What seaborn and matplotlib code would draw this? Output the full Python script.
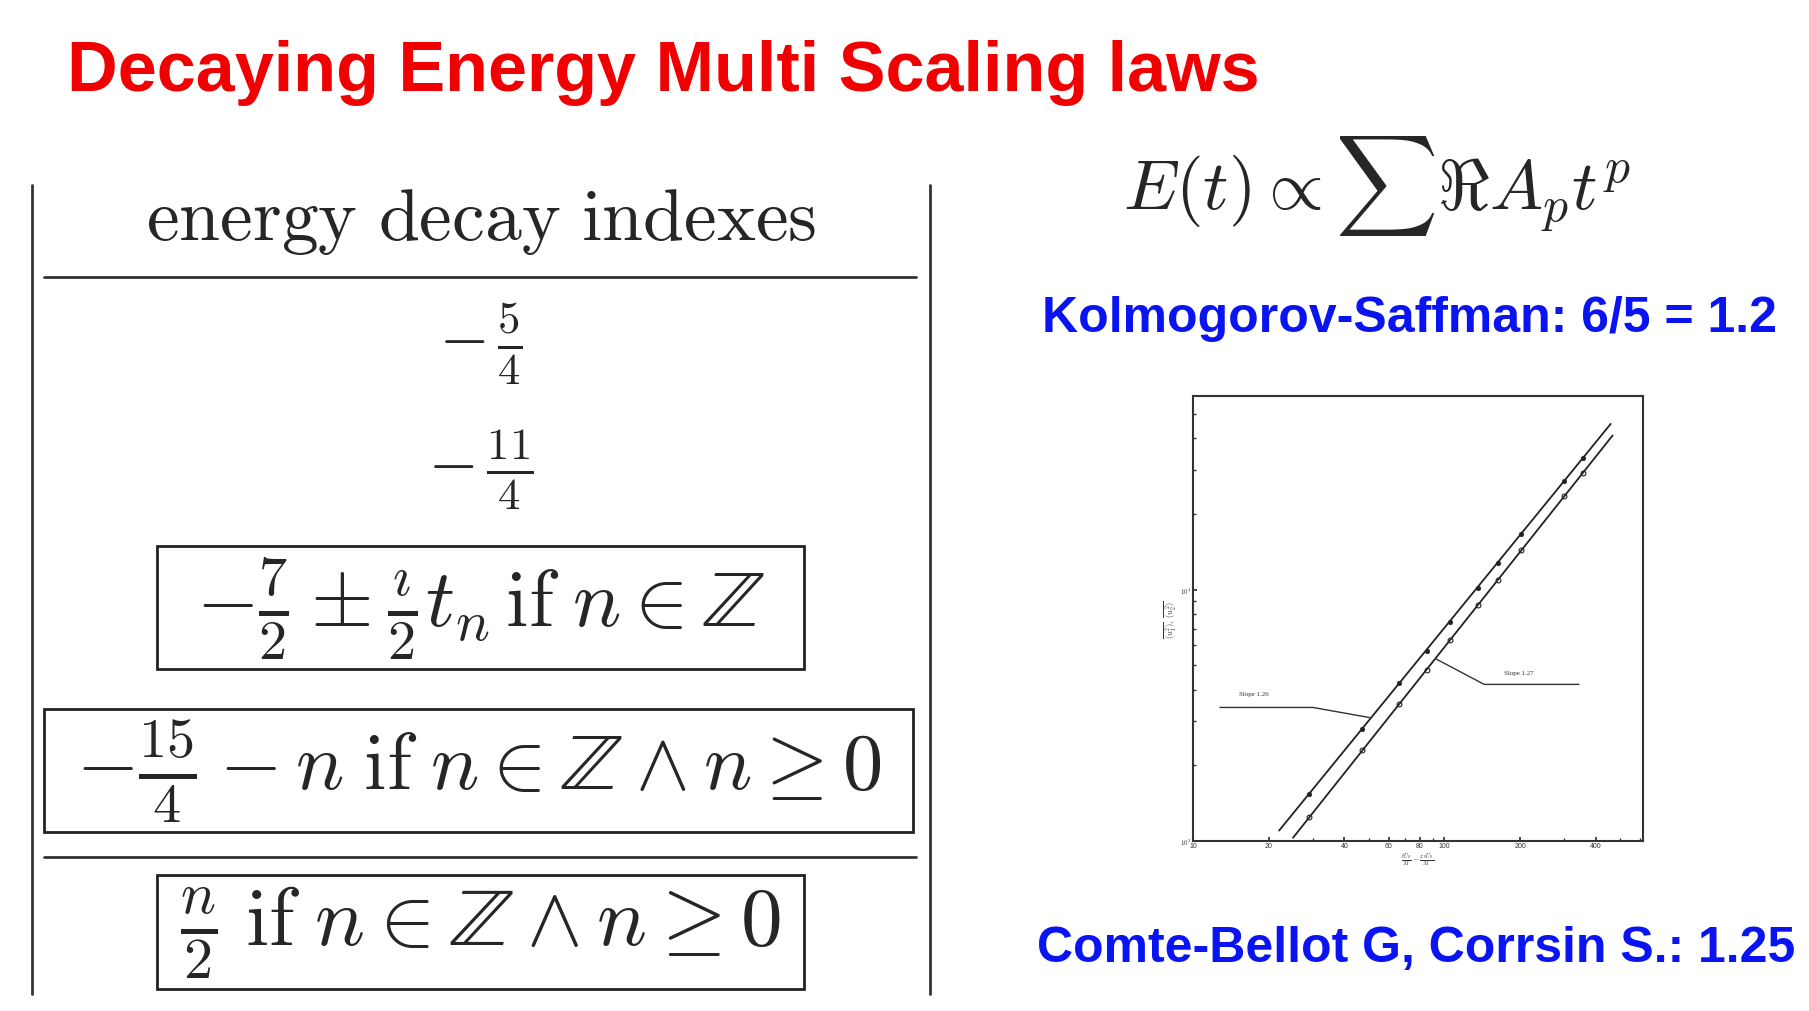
import matplotlib
matplotlib.use("Agg")
import matplotlib.pyplot as plt
import seaborn as sns
import numpy as np
from matplotlib.patches import Rectangle
from matplotlib.lines import Line2D

sns.set_theme(style="white")
plt.rcParams['font.family'] = ['Liberation Sans', 'DejaVu Sans']
plt.rcParams['mathtext.fontset'] = 'cm'

title = "Decaying Energy Multi Scaling laws"
header = r"$\mathrm{energy\ decay\ indexes}$"
rows = [r"$-\,\frac{5}{4}$", r"$-\,\frac{11}{4}$",
        r"$-\frac{7}{2}\pm\frac{\imath}{2}t_n\,\mathrm{if}\;n\in\mathbb{Z}$",
        r"$-\frac{15}{4}-n\;\mathrm{if}\;n\in\mathbb{Z}\wedge n\geq 0$",
        r"$\frac{n}{2}\;\mathrm{if}\;n\in\mathbb{Z}\wedge n\geq 0$"]
formula = r"$E(t)\propto\sum\Re A_p t^p$"
ks_text = "Kolmogorov-Saffman: 6/5 = 1.2"
cbc_text = "Comte-Bellot G, Corrsin S.: 1.25"

x_pts = [29, 47, 66, 85, 105, 136, 163, 202, 300, 355]
y_filled = [1540, 2800, 4240, 5710, 7430, 10200, 12800, 16700, 27200, 33300]
y_open = [1250, 2310, 3520, 4800, 6280, 8690, 10960, 14350, 23650, 29200]
fit1_x, fit1_y = [22, 459], [1100, 45700]
fit2_x, fit2_y = [25, 467], [1030, 41100]

W, H = 1809, 1012
fig = plt.figure(figsize=(W/100, H/100), dpi=100)
fig.patch.set_facecolor('white')

def fx(px): return px / W
def fy(py): return 1 - py / H

fig.text(fx(67), fy(73), title, color='#f00000', fontsize=50.5, fontweight='bold', va='center', ha='left')

# table
for x in (32, 930):
    fig.add_artist(Line2D([fx(x), fx(x)], [fy(186), fy(995)], color='#333', lw=2))
for y in (278, 858):
    fig.add_artist(Line2D([fx(44), fx(916)], [fy(y), fy(y)], color='#333', lw=2))
fig.text(fx(481), fy(222), header, fontsize=53, ha='center', va='center')
fig.text(fx(481), fy(344), rows[0], fontsize=46, ha='center', va='center')
fig.text(fx(481), fy(470), rows[1], fontsize=46, ha='center', va='center')
for (x0, y0, x1, y1), r, fs in zip([(157, 547, 804, 670), (44, 710, 913, 833), (157, 876, 804, 990)], rows[2:], [58, 58, 60]):
    fig.add_artist(Rectangle((fx(x0), fy(y1)), fx(x1-x0), (y1-y0)/H, fill=False, ec='#222', lw=2))
    fig.text(fx((x0+x1)/2), fy((y0+y1)/2), r, fontsize=fs, ha='center', va='center')

fig.text(fx(1377), fy(186), formula, fontsize=51, ha='center', va='center')
fig.text(fx(1410), fy(319), ks_text, color='#0a14f0', fontsize=36, fontweight='bold', ha='center', va='center')
fig.text(fx(1416), fy(949), cbc_text, color='#0a14f0', fontsize=36, fontweight='bold', ha='center', va='center')

# inset plot
ax = fig.add_axes([1193/W, 1-842/H, 450/W, 445/H])
ax.set_xscale('log'); ax.set_yscale('log')
ax.set_xlim(10, 617); ax.set_ylim(1000, 59000)
sns.lineplot(x=fit1_x, y=fit1_y, ax=ax, color='#222', lw=1.3)
sns.lineplot(x=fit2_x, y=fit2_y, ax=ax, color='#222', lw=1.3)
sns.scatterplot(x=x_pts, y=y_filled, ax=ax, color='#222', s=12, edgecolor='#222')
sns.scatterplot(x=x_pts, y=y_open, ax=ax, facecolor='white', s=12, edgecolor='#222', linewidth=0.8)
ax.plot([12.8, 30, 50.3], [3400, 3400, 3100], color='#333', lw=1)
ax.text(15.3, 3800, "Slope 1.26", fontsize=5, family='Liberation Serif', color='#333')
ax.plot([92.7, 144, 343], [5300, 4200, 4200], color='#333', lw=1)
ax.text(173, 4610, "Slope 1.27", fontsize=5, family='Liberation Serif', color='#333')
for s in ax.spines.values():
    s.set_color('#333'); s.set_linewidth(1.5)
ax.set_xticks([10, 20, 40, 60, 80, 100, 200, 400])
ax.set_xticklabels(['10', '20', '40', '60', '80', '100', '200', '400'])
ax.set_yticks([1000, 10000])
ax.set_yticklabels([r'$10^3$', r'$10^4$'])
ax.tick_params(axis='both', which='both', direction='in', labelsize=5, length=3, left=True, bottom=True, pad=1, colors='#333')
ax.tick_params(axis='both', which='minor', length=2)
ax.set_xlabel(r'$\frac{tU_0}{M}-\frac{x_0 U_0}{M}$', fontsize=6, labelpad=1, color='#333')
ax.set_ylabel(r'$\overline{(u_1^2)},\ \overline{(u_2^2)}$', fontsize=6, labelpad=1, color='#333')
ax.grid(False)

fig.savefig('out.png', dpi=100, facecolor='white')
